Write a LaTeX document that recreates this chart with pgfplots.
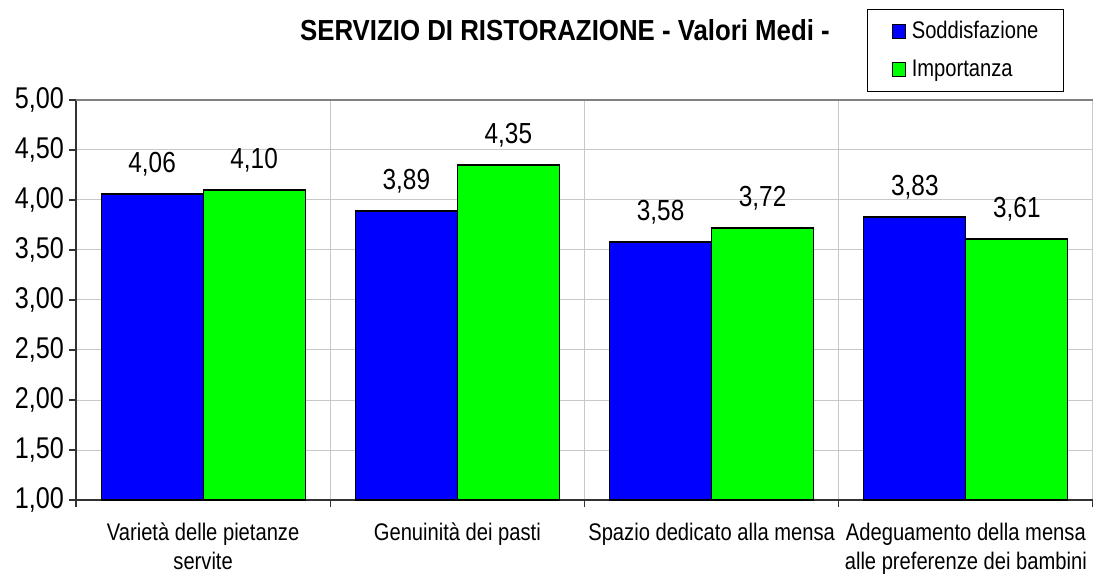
\documentclass[border=0pt]{standalone}
\usepackage{fontspec}
\setmainfont{Liberation Sans}[FakeStretch=0.84]
\newfontfamily\titlefont{Liberation Sans}[FakeStretch=0.89]
\usepackage{pgfplots}
\pgfplotsset{compat=1.18}
\definecolor{barblue}{RGB}{0,0,255}
\definecolor{bargreen}{RGB}{0,255,0}
\definecolor{gridgray}{RGB}{200,200,200}
\definecolor{bordergray}{RGB}{128,128,128}
\definecolor{axisgray}{RGB}{50,50,50}

\begin{document}
\begin{tikzpicture}
\useasboundingbox (-76pt,-76pt) rectangle (1017pt,500pt);
\begin{axis}[
  at={(0pt,0pt)}, anchor=south west,
  scale only axis, width=1017pt, height=400pt,
  ybar=0pt, bar width=102pt,
  xmin=-0.5, xmax=3.5, ymin=1, ymax=5,
  axis x line*=bottom, axis y line*=left,
  axis line style={axisgray, line width=1.5pt},
  xtick={-0.5,0.5,1.5,2.5,3.5}, xticklabels={{},{},{},{},{}},
  ytick={1,1.5,2,2.5,3,3.5,4,4.5,5},
  xmajorgrids, ymajorgrids,
  grid style={gridgray, line width=1pt},
  tick align=outside, major tick length=7pt,
  tick style={axisgray, line width=1.2pt},
  extra x ticks={0,1,2,3},
  extra x tick labels={{Variet\`a delle pietanze\\servite},{Genuinit\`a dei pasti},{Spazio dedicato alla mensa},{Adeguamento della mensa\\alle preferenze dei bambini}},
  extra x tick style={major tick length=0pt, grid=none,
    xticklabel style={align=center, font=\fontsize{24}{29}\selectfont, anchor=north, inner sep=0pt, yshift=-23pt}},
  yticklabel style={font=\fontsize{30}{30}\selectfont, inner sep=0pt, xshift=-5pt},
  /pgf/number format/use comma,
  /pgf/number format/fixed,
  /pgf/number format/fixed zerofill,
  /pgf/number format/precision=2,
  /pgf/number format/assume math mode=true,
  nodes near coords,
  nodes near coords align={anchor=base},
  every node near coord/.append style={font=\fontsize{29}{29}\selectfont, inner sep=0pt, yshift=21pt, text=black},
  title={SERVIZIO DI RISTORAZIONE - Valori Medi -},
  title style={font=\titlefont\bfseries\fontsize{29}{29}\selectfont, at={(axis description cs:0.4808,1.1325)}, anchor=base, inner sep=0pt},
  legend style={at={(axis description cs:0.7778,1.2275)}, anchor=north west,
    draw=black, line width=1.2pt, inner xsep=24pt, inner ysep=8pt,
    font=\fontsize{24}{24}\selectfont, row sep=10pt,
    nodes={inner sep=1pt, text height=20pt, text depth=6pt},
    cells={anchor=west},
    /tikz/every odd column/.style={column sep=5pt}},
]
\addplot[fill=barblue, draw=black, line width=1.2pt,
  legend image code/.code={\draw[fill=barblue, draw=black, line width=1.2pt] (0pt,-7pt) rectangle (13pt,7pt);}]
  coordinates {(0,4.06) (1,3.89) (2,3.58) (3,3.83)};
\addplot[fill=bargreen, draw=black, line width=1.2pt,
  legend image code/.code={\draw[fill=bargreen, draw=black, line width=1.2pt] (0pt,-7pt) rectangle (13pt,7pt);}]
  coordinates {(0,4.10) (1,4.35) (2,3.72) (3,3.61)};
\legend{Soddisfazione, Importanza}
\draw[bordergray, line width=1.5pt] (rel axis cs:0,1) -- (rel axis cs:1,1);
\end{axis}
\end{tikzpicture}
\end{document}
